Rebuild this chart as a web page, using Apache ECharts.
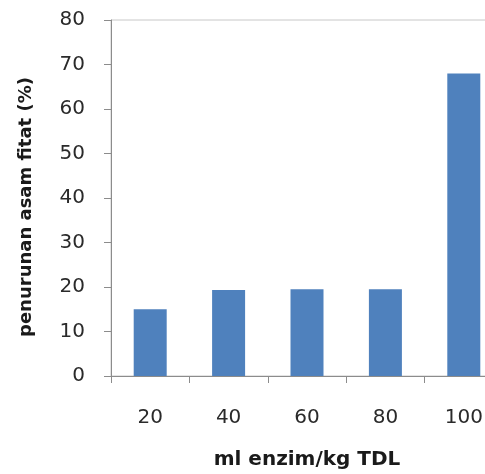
<!DOCTYPE html>
<html>
<head>
<meta charset="utf-8">
<script src="https://cdn.jsdelivr.net/npm/echarts@6/dist/echarts.min.js"></script>
<style>
    html, body { margin: 0; padding: 0; background: #fff; overflow: hidden; }
    #chart { width: 485px; height: 474px; }
</style>
</head>
<body>
<div id="chart"></div>
<script>
    // dosis enzim (ml/kg TDL) dan penurunan asam fitat (%)
    const categories = ['20', '40', '60', '80', '100']
    const values = [15, 19.3, 19.5, 19.5, 68]
    const yMin = 0
    const yMax = 80
    const yStep = 10

    const myChart = echarts.init(document.getElementById('chart'))
    const font = '"DejaVu Sans", sans-serif'

    const option = {
        animation: false,
        grid: {
            left: 111,
            top: 20,
            width: 392,
            height: 356,
            outerBoundsMode: 'none',
            show: true,
            borderColor: '#c8c8c8',
            borderWidth: 1
        },
        xAxis: {
            type: 'category',
            data: categories,
            name: 'ml enzim/kg TDL',
            nameLocation: 'middle',
            nameGap: 74,
            nameTextStyle: {
                color: '#1a1a1a',
                fontSize: 20,
                fontWeight: 'bold',
                fontFamily: font
            },
            axisLine: { lineStyle: { color: '#8c8c8c', width: 1 } },
            axisTick: { show: true, length: 7, lineStyle: { color: '#8c8c8c' } },
            axisLabel: {
                color: '#2a2a2a',
                fontSize: 20,
                fontFamily: font,
                margin: 32
            }
        },
        yAxis: {
            type: 'value',
            min: yMin,
            max: yMax,
            interval: yStep,
            name: 'penurunan asam fitat (%)',
            nameLocation: 'middle',
            nameGap: 76,
            nameTextStyle: {
                color: '#1a1a1a',
                fontSize: 18,
                fontWeight: 'bold',
                fontFamily: font,
                padding: [0, 18, 0, 0]
            },
            axisLine: { show: true, lineStyle: { color: '#8c8c8c', width: 1 } },
            axisTick: { show: true, length: 7, lineStyle: { color: '#8c8c8c' } },
            axisLabel: {
                color: '#2a2a2a',
                fontSize: 20,
                fontFamily: font,
                margin: 26
            },
            splitLine: { show: false }
        },
        series: [
            {
                type: 'bar',
                data: values,
                barWidth: 33,
                itemStyle: { color: '#4f81bd' }
            }
        ]
    }
    myChart.setOption(option)
</script>
</body>
</html>
